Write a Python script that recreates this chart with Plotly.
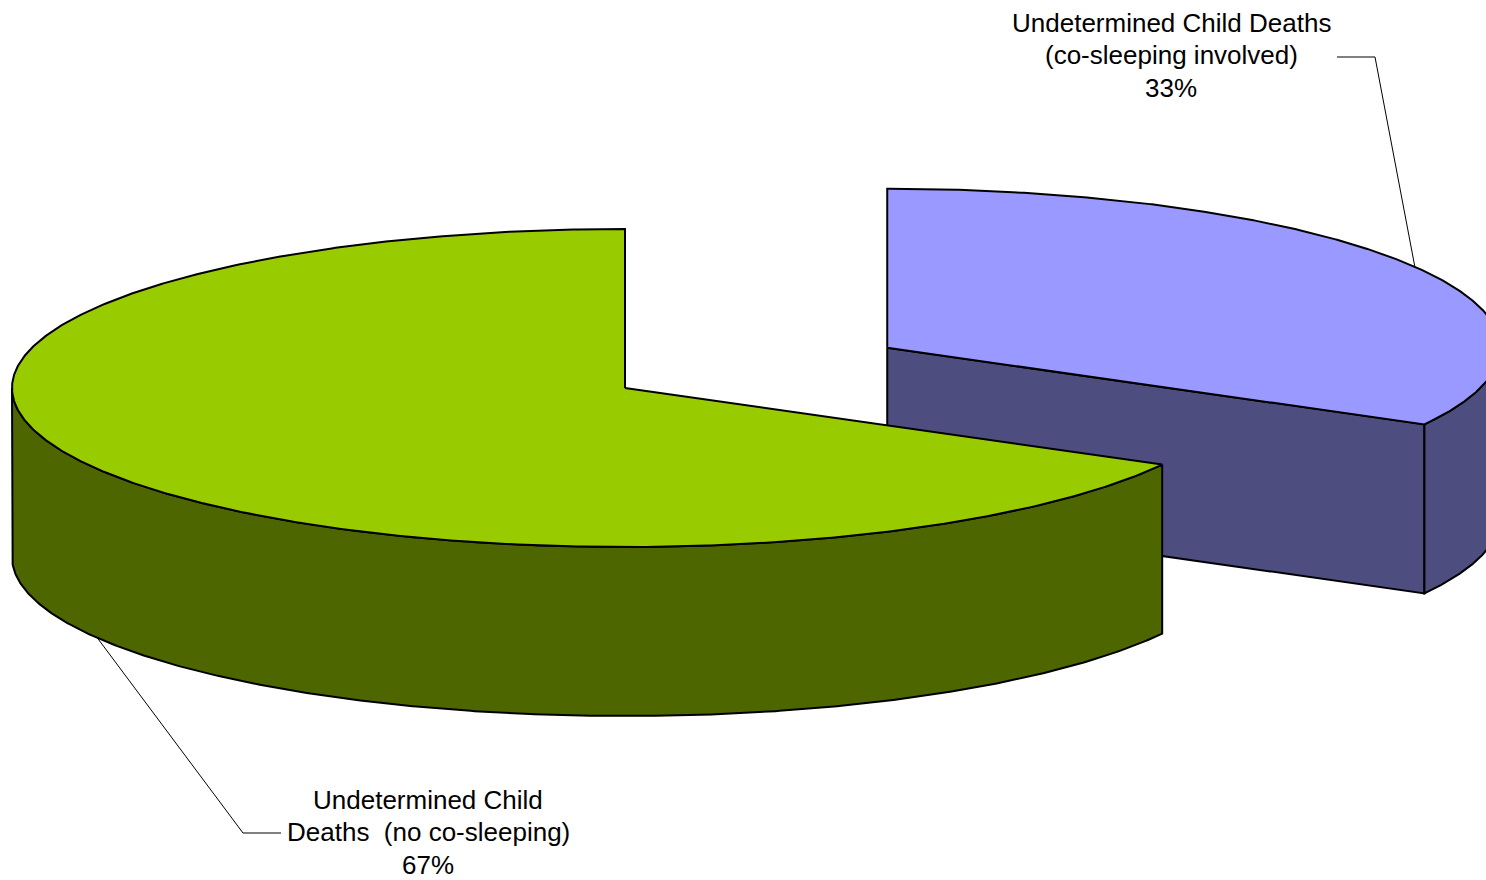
import numpy as np
import plotly.graph_objects as go

# ---------------- data ----------------
categories = ["Undetermined Child Deaths (co-sleeping involved)",
              "Undetermined Child Deaths (no co-sleeping)"]
label_lines = [["Undetermined Child Deaths", "(co-sleeping involved)"],
               ["Undetermined Child", "Deaths \u00a0(no co-sleeping)"]]
values = [33, 67]
pct_labels = ["33%", "67%"]

# ---------------- style / geometry ----------------
top_colors = ["#9999FF", "#99CC00"]
side_colors = ["#4D4D7F", "#4D6600"]
explode = [0.497, 0.0]
W, H = 1486, 880
CX, CY = 625, 388        # centre of pie top (screen px)
RX, RY = 613, 159        # ellipse radii
DEPTH = 169              # thickness
START = 90.0             # first slice starts at 12 o'clock, clockwise
label_pos = [(1171, 55), (428, 832)]   # centre of middle text line
LINE_GAP = 32.5
elbows = [[(1375, 57), (1337, 57)], [(243, 833), (281, 833)]]
FONT = "Liberation Sans, Arial, sans-serif"

fig = go.Figure()

total = float(sum(values))
cum = 0.0
slices = []
for i, v in enumerate(values):
    a1 = START - cum / total * 360.0
    a2 = START - (cum + v) / total * 360.0
    cum += v
    mid = (a1 + a2) / 2.0
    ox = RX * explode[i] * np.cos(np.radians(mid))
    oy = -RY * explode[i] * np.sin(np.radians(mid))
    slices.append(dict(i=i, a1=a1, a2=a2, mid=mid, cx=CX + ox, cy=CY + oy))


def ex(s, th):
    return s["cx"] + RX * np.cos(np.radians(th))


def ey(s, th, dz=0.0):
    return s["cy"] - RY * np.sin(np.radians(th)) + dz


def poly(xs, ys, fill, lw=2):
    fig.add_trace(go.Scatter(x=list(xs), y=list(ys), mode="lines", fill="toself",
                             fillcolor=fill, line=dict(color="black", width=lw),
                             hoverinfo="skip", showlegend=False))


for s in sorted(slices, key=lambda s: -np.sin(np.radians(s["mid"]))):
    i = s["i"]
    # radial (cut) faces
    for ang, n in ((s["a1"], s["a1"] + 90), (s["a2"], s["a2"] - 90)):
        if np.sin(np.radians(n)) < -1e-6:
            px = [s["cx"], ex(s, ang), ex(s, ang), s["cx"], s["cx"]]
            py = [s["cy"], ey(s, ang), ey(s, ang, DEPTH), s["cy"] + DEPTH, s["cy"]]
            poly(px, py, side_colors[i])
    # outer curved side (front part only)
    for k in range(-3, 3):
        lo = max(s["a2"], -180 + 360 * k)
        hi = min(s["a1"], 360 * k)
        if lo < hi:
            th = np.linspace(hi, lo, 400)
            xs = np.concatenate([ex(s, th), ex(s, th[::-1])])
            ys = np.concatenate([ey(s, th), ey(s, th[::-1], DEPTH)])
            xs = np.append(xs, xs[0])
            ys = np.append(ys, ys[0])
            poly(xs, ys, side_colors[i])
    # top face
    th = np.linspace(s["a1"], s["a2"], 600)
    xs = np.concatenate([[s["cx"]], ex(s, th), [s["cx"]]])
    ys = np.concatenate([[s["cy"]], ey(s, th), [s["cy"]]])
    poly(xs, ys, top_colors[i])

# leader lines and labels
annotations = []
for s in slices:
    i = s["i"]
    if np.sin(np.radians(s["mid"])) > 0:
        ax, ay = ex(s, s["mid"]), ey(s, s["mid"])
    else:
        ax, ay = ex(s, s["mid"]), ey(s, s["mid"], DEPTH)
    lx = [ax] + [p[0] for p in elbows[i]]
    ly = [ay] + [p[1] for p in elbows[i]]
    fig.add_trace(go.Scatter(x=lx, y=ly, mode="lines",
                             line=dict(color="black", width=1),
                             hoverinfo="skip", showlegend=False))
    lines = label_lines[i] + [pct_labels[i]]
    for j, t in enumerate(lines):
        annotations.append(dict(x=label_pos[i][0], y=label_pos[i][1] + (j - 1) * LINE_GAP,
                                xref="x", yref="y", text=t,
                                showarrow=False, align="center",
                                xanchor="center", yanchor="middle",
                                font=dict(family=FONT, size=26, color="black")))

fig.update_layout(
    width=W, height=H,
    margin=dict(l=0, r=0, t=0, b=0),
    paper_bgcolor="white", plot_bgcolor="white",
    xaxis=dict(range=[0, W], visible=False, fixedrange=True),
    yaxis=dict(range=[H, 0], visible=False, fixedrange=True),
    annotations=annotations,
    showlegend=False,
)

fig.write_html("out.html")
